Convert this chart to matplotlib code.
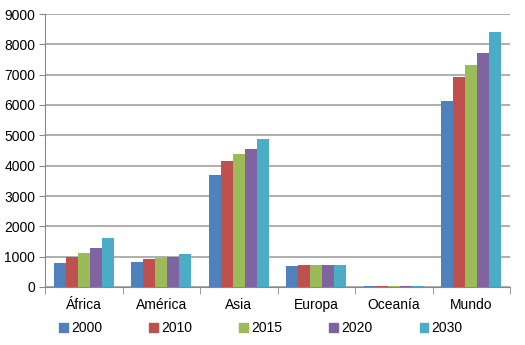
import matplotlib
matplotlib.use('Agg')
import matplotlib.pyplot as plt
import numpy as np
from matplotlib.patches import Patch

plt.rcParams['font.family'] = ['Liberation Sans', 'DejaVu Sans']

regiones = ['África', 'América', 'Asia', 'Europa', 'Oceanía', 'Mundo']
anios = ['2000', '2010', '2015', '2020', '2030']
colores = ['#4F81BD', '#C0504D', '#9BBB59', '#8064A2', '#4BACC6']

# poblacion en millones por region y año
v2000 = [790, 820, 3700, 690, 31, 6130]
v2010 = [1000, 930, 4140, 730, 36, 6910]
v2015 = [1120, 970, 4380, 730, 38, 7330]
v2020 = [1300, 980, 4540, 730, 40, 7710]
v2030 = [1610, 1080, 4870, 730, 46, 8420]
series = [v2000, v2010, v2015, v2020, v2030]

fig = plt.figure(figsize=(5.25, 3.45), dpi=100)
ax = fig.add_axes([45 / 525, 1 - 287 / 345, 465 / 525, 273 / 345])

x = np.arange(len(regiones))
ancho = 0.155
for i, (vals, c) in enumerate(zip(series, colores)):
    ax.bar(x + (i - 2) * ancho, vals, ancho, color=c, zorder=3)

ax.set_xlim(-0.5, len(regiones) - 0.5)
ax.set_ylim(0, 9000)
ax.set_yticks(range(0, 9001, 1000))
ax.grid(axis='y', color='#999999', linewidth=1.1, zorder=0)
ax.set_xticks(x)
ax.set_xticklabels(regiones)
ax.set_xticks(np.arange(-0.5, len(regiones)), minor=True)
ax.tick_params(axis='x', which='major', length=0, labelsize=10, pad=8)
ax.tick_params(axis='x', which='minor', length=5, color='#888888')
ax.tick_params(axis='y', length=4, color='#888888', labelsize=10, pad=3)
for s in ['top', 'right']:
    ax.spines[s].set_visible(False)
for s in ['left', 'bottom']:
    ax.spines[s].set_color('#888888')

handles = [Patch(color=c, label=a) for a, c in zip(anios, colores)]
fig.legend(handles=handles, loc='center', bbox_to_anchor=(0.497, 1 - 328 / 345),
           ncol=5, frameon=False, fontsize=10, handlelength=0.6, handleheight=0.6,
           handletextpad=0.25, columnspacing=3.4)

plt.savefig('out.png')
